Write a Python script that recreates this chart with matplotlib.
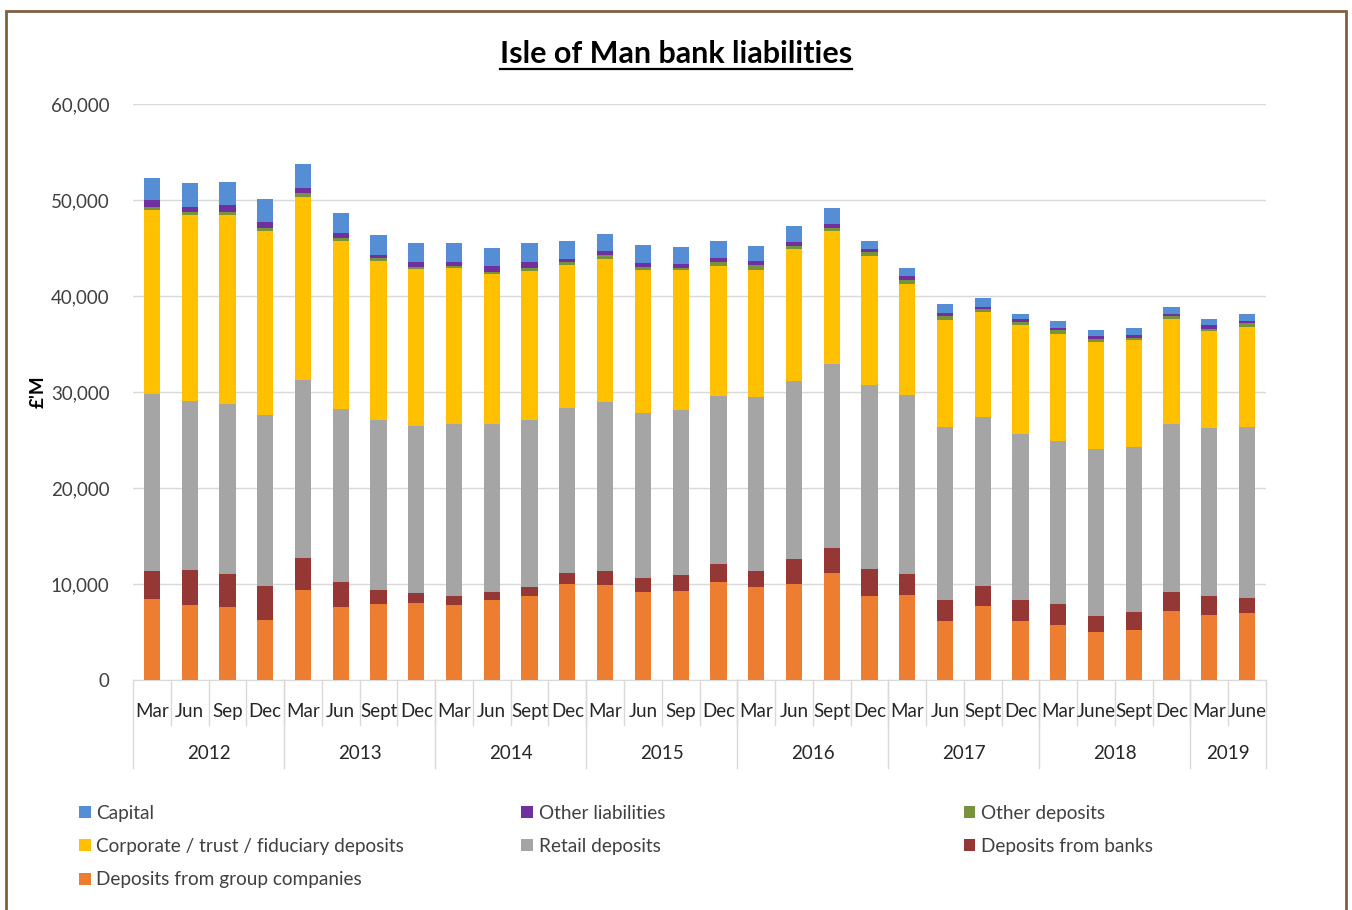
import numpy as np
import matplotlib.pyplot as plt
from matplotlib.patches import Rectangle, Patch

plt.rcParams['font.family'] = ['Lato', 'DejaVu Sans']

# quarters and years (multi-level category axis)
months = ['Mar', 'Jun', 'Sep', 'Dec',
          'Mar', 'Jun', 'Sept', 'Dec',
          'Mar', 'Jun', 'Sept', 'Dec',
          'Mar', 'Jun', 'Sep', 'Dec',
          'Mar', 'Jun', 'Sept', 'Dec',
          'Mar', 'Jun', 'Sept', 'Dec',
          'Mar', 'June', 'Sept', 'Dec',
          'Mar', 'June']
years = ['2012', '2013', '2014', '2015', '2016', '2017', '2018', '2019']
year_counts = [4, 4, 4, 4, 4, 4, 4, 2]

# values in £m
group_companies = [8400, 7800, 7600, 6300, 9400, 7600, 7900, 8000, 7800, 8300,
                   8800, 10050, 9900, 9150, 9300, 10250, 9650, 10050, 11150, 8800,
                   8900, 6200, 7700, 6200, 5700, 5000, 5200, 7200, 6800, 6950]
banks = [3000, 3700, 3450, 3500, 3350, 2600, 1500, 1050, 1000, 900,
         900, 1100, 1500, 1500, 1600, 1800, 1750, 2600, 2600, 2750,
         2100, 2100, 2100, 2100, 2200, 1700, 1900, 2000, 2000, 1600]
retail = [18350, 17600, 17700, 17800, 18550, 18050, 17700, 17400, 17850, 17500,
          17350, 17200, 17600, 17200, 17200, 17550, 18100, 18550, 19150, 19150,
          18700, 18100, 17600, 17350, 17000, 17350, 17200, 17500, 17500, 17850]
corporate = [19200, 19300, 19650, 19200, 19050, 17450, 16550, 16400, 16250, 15600,
             15600, 14850, 14850, 14850, 14600, 13550, 13250, 13700, 13900, 13500,
             11600, 11150, 10900, 11300, 11150, 11150, 11150, 10900, 10050, 10400]
other_deposits = [350, 400, 400, 300, 400, 300, 300, 200, 200, 250,
                  250, 300, 400, 350, 200, 400, 450, 350, 250, 400,
                  400, 400, 300, 350, 450, 350, 200, 350, 250, 350]
other_liabilities = [650, 500, 650, 600, 500, 600, 350, 500, 400, 550,
                     600, 400, 400, 400, 400, 400, 400, 350, 400, 250,
                     350, 300, 300, 300, 200, 250, 300, 150, 350, 250]
capital = [2350, 2450, 2450, 2450, 2550, 2000, 2100, 2000, 2000, 1900,
           2000, 1850, 1850, 1900, 1800, 1750, 1600, 1700, 1750, 850,
           900, 900, 900, 550, 700, 650, 750, 750, 650, 750]

series = [
    ('Deposits from group companies', group_companies, '#ED7D31'),
    ('Deposits from banks', banks, '#953735'),
    ('Retail deposits', retail, '#A5A5A5'),
    ('Corporate / trust / fiduciary deposits', corporate, '#FFC000'),
    ('Other deposits', other_deposits, '#77933C'),
    ('Other liabilities', other_liabilities, '#7030A0'),
    ('Capital', capital, '#558ED5'),
]

fig = plt.figure(figsize=(13.52, 9.10), dpi=100)
ax = fig.add_axes([0.0984, 0.2527, 0.838, 0.6330])

x = np.arange(len(months))
bottom = np.zeros(len(months))
handles = {}
for name, vals, col in series:
    vals = np.array(vals, dtype=float)
    ax.bar(x, vals, 0.43, bottom=bottom, color=col, zorder=3)
    bottom += vals
    handles[name] = Patch(facecolor=col)

ax.set_xlim(-0.5, len(months) - 0.5)
ax.set_ylim(0, 60000)
ax.set_yticks(range(0, 60001, 10000))
ax.set_yticklabels([f'{v:,}' for v in range(0, 60001, 10000)], fontsize=13.5, color='#404040')
ax.tick_params(axis='y', length=0, pad=17)
ax.grid(axis='y', color='#D9D9D9', linewidth=1, zorder=0)
for s in ['top', 'right', 'left']:
    ax.spines[s].set_visible(False)
ax.spines['bottom'].set_color('#D9D9D9')

# multi-level category axis
ax.set_xticks([])
tr = ax.get_xaxis_transform()
for i, m in enumerate(months):
    ax.text(i, -0.055, m, transform=tr, ha='center', va='center', fontsize=13.5, color='#262626')
for i in range(1, len(months)):
    ax.plot([i - 0.5, i - 0.5], [0, -0.078], transform=tr, color='#D9D9D9',
            linewidth=1, clip_on=False)
start = 0
edges = [-0.5]
for yr, n in zip(years, year_counts):
    ax.text(start + (n - 1) / 2, -0.128, yr, transform=tr, ha='center', va='center',
            fontsize=13.5, color='#262626')
    start += n
    edges.append(start - 0.5)
for e in edges:
    ax.plot([e, e], [0, -0.153], transform=tr, color='#D9D9D9', linewidth=1, clip_on=False)

ax.set_ylabel("£'M", fontsize=13.5, fontweight='bold')
ax.yaxis.set_label_coords(-0.076, 0.5)

title = fig.text(0.5, 0.941, 'Isle of Man bank liabilities', ha='center', va='center',
                 fontsize=22, fontweight='bold', color='#000000')
fig.canvas.draw()
bb = title.get_window_extent()
fig.add_artist(plt.Line2D([bb.x0 / 1352, bb.x1 / 1352], [(bb.y0 - 1) / 910] * 2,
                          color='black', linewidth=1.6))

# legend, three columns laid out row by row
cols = [
    (['Capital', 'Corporate / trust / fiduciary deposits', 'Deposits from group companies'], 0.046),
    (['Other liabilities', 'Retail deposits'], 0.373),
    (['Other deposits', 'Deposits from banks'], 0.700),
]
for names, x0 in cols:
    fig.legend([handles[n] for n in names], names, loc='upper left',
               bbox_to_anchor=(x0, 0.1345), frameon=False, fontsize=13.7,
               handlelength=0.6, handleheight=0.6, handletextpad=0.3,
               labelspacing=0.86, labelcolor='#404040')

fig.add_artist(Rectangle((6 / 1352, -0.05), 1340 / 1352, 1.05 - 11 / 910,
                         transform=fig.transFigure, fill=False,
                         edgecolor='#7F6040', linewidth=2))

fig.savefig('out.png', dpi=100)
